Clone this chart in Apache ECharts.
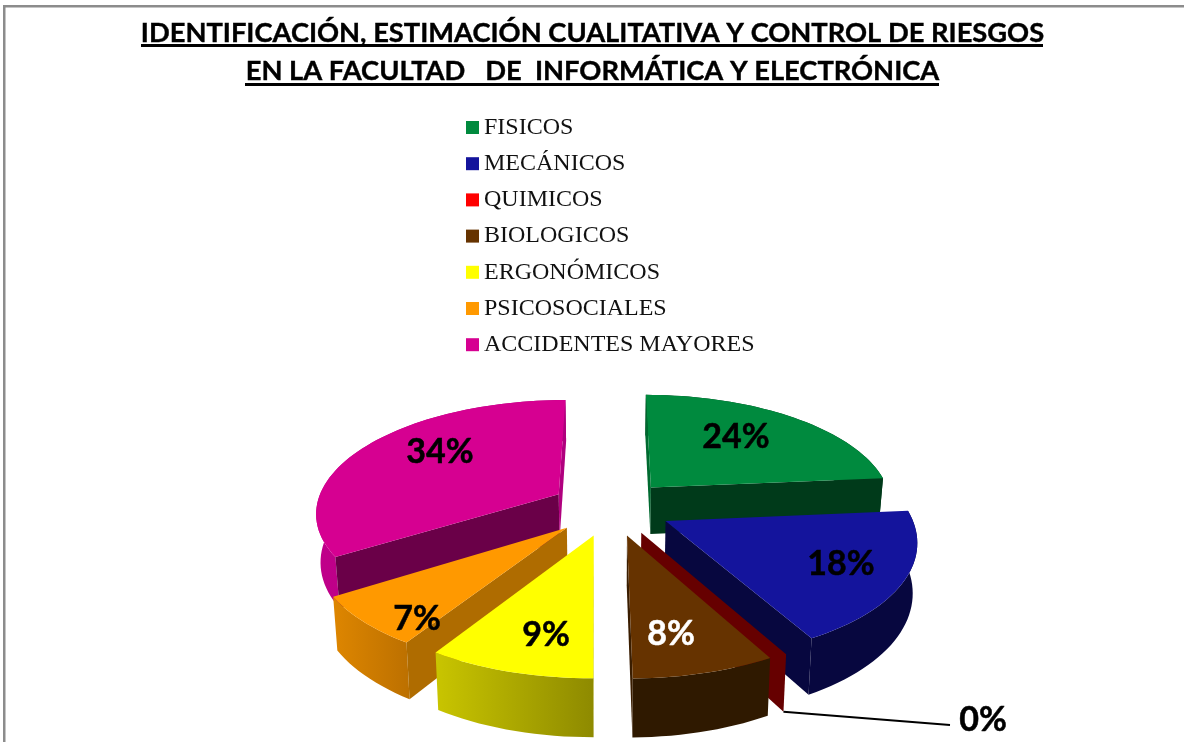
<!DOCTYPE html>
<html><head><meta charset="utf-8">
<style>html,body{margin:0;padding:0;background:#fff}#c{width:1184px;height:742px}</style>
<script src="https://cdn.jsdelivr.net/npm/echarts@6/dist/echarts.min.js"></script>
</head><body><div id="c"></div>
<script>
// ---- data ----
const categories = ['FISICOS','MECÁNICOS','QUIMICOS','BIOLOGICOS','ERGONÓMICOS','PSICOSOCIALES','ACCIDENTES MAYORES'];
const values = [23.6, 18.4, 0, 7.85, 9.15, 7, 34];
const titleLines = ['IDENTIFICACIÓN, ESTIMACIÓN CUALITATIVA Y CONTROL DE RIESGOS','EN LA FACULTAD   DE  INFORMÁTICA Y ELECTRÓNICA'];

// ---- styles ----
const topColors = ['#008A3E','#14149C','#FF0000','#663300','#FFFF00','#FF9900','#D60091'];
const sideColors = [['#003A1A','#003A1A'],['#07073F','#07073F'],['#660000','#660000'],['#2F1900','#2F1900'],['#C9C500','#8E8A00'],['#DE8600','#BC7000'],['#C0008A','#A80078']];
const startFace = ['#006A30','#07073F','#660000','#3A1D00','#A8A400','#AF6C00','#6A0048'];
const endFace   = ['#003A1A','#07073F','#660000','#3A1D00','#A8A400','#AF6C00','#B0007E'];
const labelColors = ['#000','#000','#000','#fff','#000','#000','#000'];
const labelPos = [[736,437],[841,564],[983,720],[671,634],[546,635],[417,619],[440,452]];
const paintOrder = [2,3,4,7,6,5,1]; // z of each slice: later overlaps earlier

// ---- 3D projection of the exploded pie ----
const CX = 611, CY = 507.5, A = 243, B = 112, K = 0.15, EXPLODE = 0.25, DEPTH = 48, BOTTOM_SCALE = 0.985;
function project(x, y, bottom) {
  const w = 1 - K * y;
  let X = A * x / w, Y = B * y / w;
  if (bottom) { X *= BOTTOM_SCALE; Y += DEPTH / w; }
  return [CX + X, CY + Y];
}
const total = values.reduce((a, b) => a + b, 0);
let acc = 0;
const spans = values.map(v => { const s = acc; acc += v; return [s / total * 360, acc / total * 360]; });
const rad = d => d * Math.PI / 180;
function area(p) { // twice signed area
  let s = 0;
  for (let i = 0; i < p.length; i++) { const a = p[i], b = p[(i + 1) % p.length]; s += a[0] * b[1] - b[0] * a[1]; }
  return s;
}
function renderSlice(i) {
  return function () {
    const [a0, a1] = spans[i];
    const mid = rad((a0 + a1) / 2);
    const ox = EXPLODE * Math.sin(mid), oy = -EXPLODE * Math.cos(mid);
    const rimPt = (deg, bottom) => project(ox + Math.sin(rad(deg)), oy - Math.cos(rad(deg)), bottom);
    const apexT = project(ox, oy, false), apexB = project(ox, oy, true);
    const n = Math.max(1, Math.ceil((a1 - a0) / 2));
    const topRim = [], botRim = [];
    for (let k = 0; k <= n; k++) {
      const d = a0 + (a1 - a0) * k / n;
      topRim.push(rimPt(d, false)); botRim.push(rimPt(d, true));
    }
    const children = [];
    const poly = (pts, fill) => children.push({ type: 'polygon', shape: { points: pts }, style: { fill: fill, stroke: null } });
    // outer wall
    if (a1 > a0) {
      poly(topRim.concat(botRim.slice().reverse()),
        new echarts.graphic.LinearGradient(0, 0, 1, 0, [{ offset: 0, color: sideColors[i][0] }, { offset: 1, color: sideColors[i][1] }]));
    }
    // radial cut faces, only when they face the viewer
    const fs = [apexT, topRim[0], botRim[0], apexB];
    const fe = [apexT, topRim[n], botRim[n], apexB];
    if (area(fs) < 0) poly(fs, startFace[i]);
    if (area(fe) > 0) poly(fe, endFace[i]);
    // top surface
    if (a1 > a0) poly([apexT].concat(topRim), topColors[i]);
    // value label
    children.push({ type: 'text', z2: 5, style: { x: labelPos[i][0], y: labelPos[i][1], text: Math.round(values[i]) + '%',
      fill: labelColors[i], stroke: labelColors[i], lineWidth: 0.5, font: 'bold 34px Lato, Carlito, sans-serif', textAlign: 'center', textVerticalAlign: 'middle' } });
    // leader line of the empty slice
    if (a1 === a0) {
      const s = botRim[n];
      children.push({ type: 'line', shape: { x1: s[0], y1: s[1], x2: 950, y2: 725 }, style: { stroke: '#000', lineWidth: 2 } });
    }
    return { type: 'group', children: children };
  };
}
const chart = echarts.init(document.getElementById('c'), null, { renderer: 'canvas' });
chart.setOption({
  animation: false,
  backgroundColor: '#fff',
  title: { text: titleLines.join('\n'), left: 587.5, top: 9, textAlign: 'center',
    textStyle: { fontFamily: 'Lato, Carlito, sans-serif', fontWeight: 'bold', fontSize: 27.3, lineHeight: 38, color: '#000', textBorderColor: '#000', textBorderWidth: 0.4 } },
  legend: { data: categories, orient: 'vertical', left: 466, top: 115.5, padding: 0, itemWidth: 13, itemHeight: 13, itemGap: 12.2, icon: 'rect',
    textStyle: { fontFamily: '"Liberation Serif", serif', fontSize: 24, color: '#111', lineHeight: 24, padding: [0,0,0,0] } , selectedMode: false },
  graphic: [
    { type: 'rect', shape: { x: 3, y: 5, width: 1181, height: 2.5 }, style: { fill: '#8C8C8C' }, silent: true },
    { type: 'rect', shape: { x: 3, y: 5, width: 2.5, height: 737 }, style: { fill: '#8C8C8C' }, silent: true },
    { type: 'rect', shape: { x: 141, y: 44, width: 902, height: 3 }, style: { fill: '#000' }, silent: true },
    { type: 'rect', shape: { x: 245, y: 83, width: 694, height: 3 }, style: { fill: '#000' }, silent: true }
  ],
  series: categories.map((name, i) => ({
    type: 'custom', name: name, coordinateSystem: 'none', z: paintOrder[i],
    itemStyle: { color: topColors[i] }, silent: true,
    data: [[values[i]]], renderItem: renderSlice(i)
  }))
});
</script></body></html>
